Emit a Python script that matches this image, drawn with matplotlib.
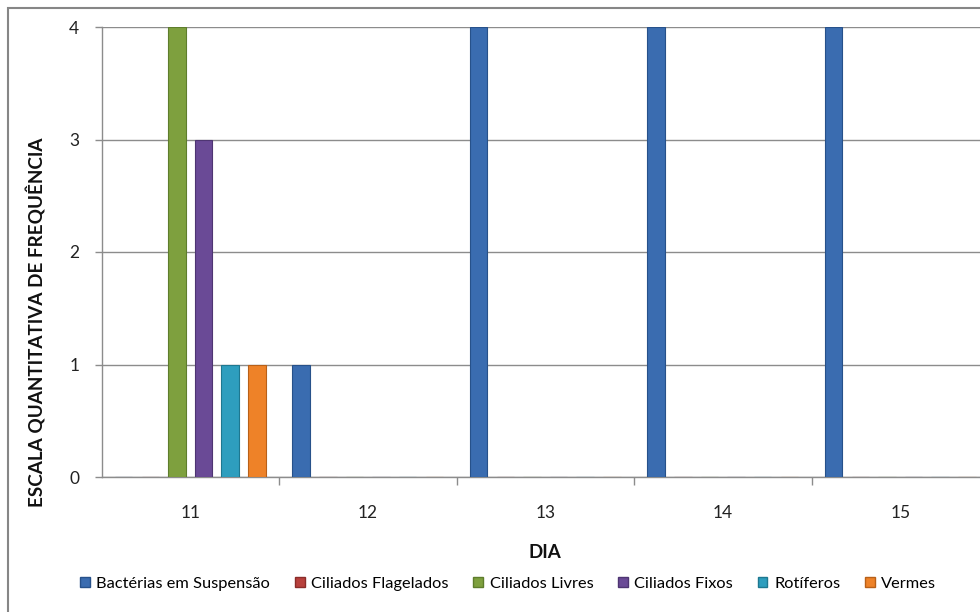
import matplotlib
matplotlib.use("Agg")
import matplotlib.pyplot as plt
import matplotlib.patches as mpatches
import numpy as np

plt.rcParams['font.family'] = ['Lato', 'DejaVu Sans']

days = ["11", "12", "13", "14", "15"]
series_names = ["Bactérias em Suspensão", "Ciliados Flagelados", "Ciliados Livres",
                "Ciliados Fixos", "Rotíferos", "Vermes"]
bacterias = [0, 1, 4, 4, 4]
flagelados = [0, 0, 0, 0, 0]
livres = [4, 0, 0, 0, 0]
fixos = [3, 0, 0, 0, 0]
rotiferos = [1, 0, 0, 0, 0]
vermes = [1, 0, 0, 0, 0]
series_values = [bacterias, flagelados, livres, fixos, rotiferos, vermes]
colors = ["#3A6CB0", "#B8403C", "#7EA03E", "#6A4A96", "#2E9EBE", "#EE8228"]
edges = ["#27518A", "#8A2C29", "#5E7D2C", "#4E3572", "#1E7890", "#B86018"]
yticks = [0, 1, 2, 3, 4]

W, H = 980, 612
fig = plt.figure(figsize=(W / 100, H / 100), dpi=100)
ax = fig.add_axes([101.5 / W, 1 - 477 / H, 887.5 / W, 450 / H])

x = np.arange(len(days))
step = 0.15
width = 0.099
for i, (vals, c, e) in enumerate(zip(series_values, colors, edges)):
    ax.bar(x + (i - 2.5) * step, vals, width=width, color=c, edgecolor=e,
           linewidth=0.8, zorder=3)

ax.set_xlim(-0.5, len(days) - 0.5)
ax.set_ylim(0, 4)
ax.set_yticks(yticks)
ax.set_yticklabels([str(v) for v in yticks], fontsize=12.5, color="#222222")
ax.yaxis.grid(True, color="#8C8C8C", linewidth=1, zorder=0)
ax.set_axisbelow(True)

ax.set_xticks(x)
ax.set_xticklabels(days, fontsize=12.5, color="#222222")
ax.set_xticks(np.arange(len(days)) + 0.5, minor=True)
ax.tick_params(axis='x', which='major', length=0, pad=20)
ax.tick_params(axis='x', which='minor', length=6, width=1, color="#8C8C8C")
ax.tick_params(axis='y', length=5, width=1, color="#8C8C8C", pad=11)

for s in ["top", "right"]:
    ax.spines[s].set_visible(False)
for s in ["left", "bottom"]:
    ax.spines[s].set_color("#8C8C8C")
    ax.spines[s].set_linewidth(1)

fig.text(545 / W, 1 - 553 / H, "DIA", fontsize=13.5, fontweight="bold",
         ha="center", va="center", color="#111111")
fig.text(36 / W, 1 - 322 / H, "ESCALA QUANTITATIVA DE FREQUÊNCIA", fontsize=13.6,
         fontweight="bold", rotation=90, ha="center", va="center", color="#111111")

handles = [mpatches.Patch(facecolor=c, edgecolor=e, label=n)
           for n, c, e in zip(series_names, colors, edges)]
fig.legend(handles=handles, loc="center", bbox_to_anchor=(508 / W, 1 - 584 / H),
           ncol=6, frameon=False, fontsize=11.8, handlelength=0.6, handleheight=0.6,
           handletextpad=0.4, columnspacing=1.5)

border = mpatches.Rectangle((8 / W, -0.1), 1.2, 1 - 8 / H + 0.1,
                            transform=fig.transFigure, fill=False,
                            edgecolor="#868686", linewidth=1.5, clip_on=False)
fig.patches.append(border)

fig.savefig("out.png", dpi=100)
